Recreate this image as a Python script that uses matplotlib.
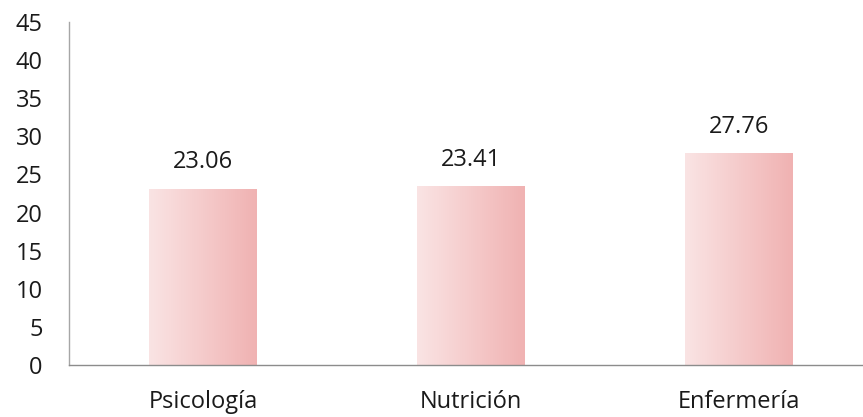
import numpy as np
import matplotlib
matplotlib.use("Agg")
import matplotlib.pyplot as plt
from matplotlib.colors import LinearSegmentedColormap

categories = ["Psicología", "Nutrición", "Enfermería"]
values = [23.06, 23.41, 27.76]
y_ticks = [0, 5, 10, 15, 20, 25, 30, 35, 40, 45]

plt.rcParams['font.family'] = ['Open Sans', 'DejaVu Sans']

fig = plt.figure(figsize=(8.63, 4.17), dpi=100)
ax = fig.add_axes([69 / 863, 52 / 417, 804 / 863, 343 / 417])

x = np.arange(len(categories))
bars = ax.bar(x, values, width=0.4, color="none", edgecolor="none")

# horizontal pink gradient inside each bar
cmap = LinearSegmentedColormap.from_list("pink", ["#FAE4E4", "#F0B2B2"])
grad = np.linspace(0, 1, 256).reshape(1, -1)
for b in bars:
    x0, w, h = b.get_x(), b.get_width(), b.get_height()
    ax.imshow(grad, cmap=cmap, aspect="auto", extent=[x0, x0 + w, 0, h],
              interpolation="bicubic", zorder=2)

for xi, v in zip(x, values):
    ax.annotate(f"{v:.2f}", (xi, v), xytext=(0, 15), textcoords="offset points",
                ha="center", va="baseline", fontsize=17, color="#1a1a1a")

ax.set_xlim(-0.5, len(categories) - 0.5)
ax.set_ylim(0, 45)
ax.set_yticks(y_ticks)
ax.set_xticks(x)
ax.set_xticklabels(categories)
ax.tick_params(axis="y", length=0, pad=19, labelsize=17, labelcolor="#1a1a1a")
ax.tick_params(axis="x", length=0, pad=18, labelsize=17, labelcolor="#1a1a1a")

for s in ["top", "right"]:
    ax.spines[s].set_visible(False)
ax.spines["left"].set_color("#A6A6A6")
ax.spines["bottom"].set_color("#8C8C8C")
ax.spines["left"].set_linewidth(1.0)
ax.spines["bottom"].set_linewidth(1.0)

fig.savefig("out.png", dpi=100)
